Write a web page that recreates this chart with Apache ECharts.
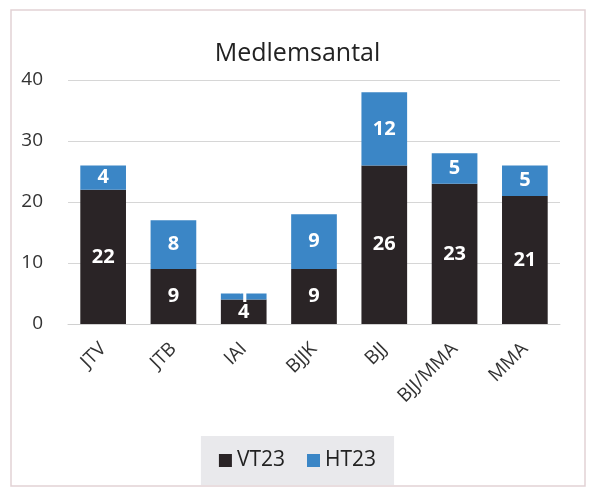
<!DOCTYPE html>
<html>
<head>
<meta charset="utf-8">
<script src="https://cdn.jsdelivr.net/npm/echarts@6/dist/echarts.min.js"></script>
<style>
  html, body { margin: 0; padding: 0; background: #fff; }
  #chart { width: 595px; height: 495px; }
</style>
</head>
<body>
<div id="chart"></div>
<script>
const categories = ["JTV", "JTB", "IAI", "BJJK", "BJJ", "BJJ/MMA", "MMA"];
const vt23 = [22, 9, 4, 9, 26, 23, 21];
const ht23 = [4, 8, 1, 9, 12, 5, 5];
const yTicks = [0, 10, 20, 30, 40];

const chart = echarts.init(document.getElementById("chart"));
const font = "Open Sans, Noto Sans, sans-serif";
const barLabel = {
  show: true,
  position: "inside",
  color: "#fff",
  fontWeight: "bold",
  fontSize: 20,
  fontFamily: font
};

chart.setOption({
  backgroundColor: "#fff",
  graphic: [
    {
      type: "rect",
      shape: { x: 11, y: 10, width: 574, height: 476 },
      style: { fill: "none", stroke: "#e2d2d5", lineWidth: 1.5 },
      z: -1
    }
  ],
  title: {
    text: "Medlemsantal",
    left: "center",
    top: 36,
    textStyle: { fontSize: 25, fontWeight: "normal", color: "#222", fontFamily: font }
  },
  legend: {
    bottom: 10,
    left: "center",
    itemWidth: 13,
    itemHeight: 13,
    itemGap: 22,
    padding: [14, 18],
    backgroundColor: "#e9e9ec",
    icon: "rect",
    textStyle: { fontSize: 21, color: "#222", fontFamily: font },
    data: ["VT23", "HT23"]
  },
  grid: { left: 68, right: 35, top: 80, bottom: 171 },
  xAxis: {
    type: "category",
    data: categories,
    axisTick: { show: false },
    axisLine: { lineStyle: { color: "#d0d0d0" } },
    axisLabel: { rotate: 45, fontSize: 19, color: "#333", margin: 22, fontFamily: font }
  },
  yAxis: {
    type: "value",
    min: yTicks[0],
    max: yTicks[yTicks.length - 1],
    interval: 10,
    axisLine: { show: false },
    axisTick: { show: false },
    splitLine: { lineStyle: { color: "#d6d6d6" } },
    axisLabel: { fontSize: 19, color: "#333", margin: 25, fontFamily: font }
  },
  series: [
    {
      name: "VT23",
      type: "bar",
      stack: "total",
      barWidth: "65%",
      itemStyle: { color: "#2a2426" },
      label: barLabel,
      data: vt23
    },
    {
      name: "HT23",
      type: "bar",
      stack: "total",
      barWidth: "65%",
      itemStyle: { color: "#3b86c6" },
      label: barLabel,
      data: ht23
    }
  ]
});
</script>
</body>
</html>
